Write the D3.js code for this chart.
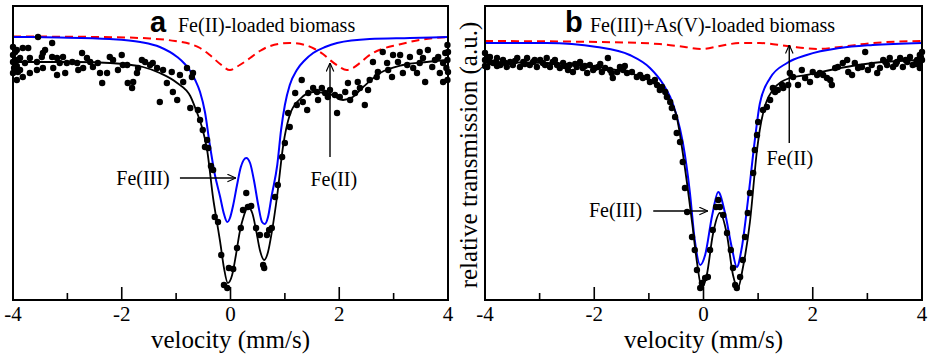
<!DOCTYPE html>
<html><head><meta charset="utf-8">
<script src="https://cdn.jsdelivr.net/npm/d3@7"></script>
<style>body{margin:0;background:#fff} text{font-family:"Liberation Serif","Times New Roman",Times,serif}</style></head>
<body>
<svg id="c" width="929" height="356"></svg>
<script>
// ---------- data ----------
const xMajorTicks = [-4, -2, 0, 2, 4];
const xMinorTicks = [-3, -1, 1, 3];
const xLabel = "velocity (mm/s)";
const yLabel = "relative transmission (a.u.)";
const titleA = ["a", "Fe(II)-loaded biomass"];
const titleB = ["b", "Fe(III)+As(V)-loaded biomass"];

// panel a: measured points [velocity, transmission a.u.]
const pointsA = [[-4.00,253],[-4.00,245],[-4.00,238],[-3.98,232],[-4.00,227],[-3.96,248],[-3.95,240],[-3.93,250],[-3.93,234],[-3.93,220],[-3.91,228],[-3.87,230],[-3.87,242],[-3.82,252],[-3.82,223],[-3.78,237],[-3.72,252],[-3.69,242],[-3.69,227],[-3.56,238],[-3.56,230],[-3.54,263],[-3.47,243],[-3.45,247],[-3.45,232],[-3.41,250],[-3.28,257],[-3.28,243],[-3.26,232],[-3.19,242],[-3.19,225],[-3.14,237],[-3.08,243],[-3.04,227],[-3.01,237],[-2.91,238],[-2.82,237],[-2.80,230],[-2.73,247],[-2.71,232],[-2.64,242],[-2.58,238],[-2.53,233],[-2.44,237],[-2.40,227],[-2.36,217],[-2.27,227],[-2.22,243],[-2.16,240],[-2.07,230],[-2.00,245],[-1.98,235],[-1.90,235],[-1.89,217],[-1.81,212],[-1.79,218],[-1.72,227],[-1.70,232],[-1.63,240],[-1.57,238],[-1.48,235],[-1.43,237],[-1.35,232],[-1.30,198],[-1.24,230],[-1.17,217],[-1.08,228],[-1.06,208],[-0.98,200],[-0.93,225],[-0.87,218],[-0.80,232],[-0.74,192],[-0.71,223],[-0.69,227],[-0.60,190],[-0.56,180],[-0.51,170],[-0.47,153],[-0.43,160],[-0.41,152],[-0.36,134],[-0.32,130],[-0.29,83],[-0.23,78],[-0.17,45],[-0.12,15],[-0.06,12],[-0.03,32],[0.05,31],[0.12,52],[0.19,72],[0.23,90],[0.29,107],[0.32,93],[0.38,94],[0.47,72],[0.54,65],[0.60,35],[0.62,32],[0.67,65],[0.71,70],[0.76,72],[0.82,103],[0.87,115],[0.95,143],[1.00,157],[1.06,187],[1.09,173],[1.19,207],[1.22,195],[1.31,220],[1.33,198],[1.41,190],[1.43,207],[1.52,212],[1.59,208],[1.61,200],[1.68,212],[1.74,207],[1.79,203],[1.83,210],[1.92,205],[1.96,187],[2.01,203],[2.11,208],[2.16,217],[2.20,200],[2.29,207],[2.34,218],[2.38,212],[2.47,195],[2.53,210],[2.56,220],[2.62,238],[2.69,223],[2.71,228],[2.80,248],[2.88,237],[2.90,230],[2.97,223],[2.99,245],[3.08,238],[3.12,245],[3.17,227],[3.25,235],[3.30,243],[3.36,232],[3.43,227],[3.48,237],[3.48,248],[3.54,242],[3.58,218],[3.63,250],[3.71,233],[3.76,240],[3.82,243],[3.85,227],[3.91,237],[3.91,218],[3.95,247],[3.99,240],[3.99,220],[3.99,255],[4.00,248],[3.97,232],[4.00,228]];
// panel a: total fit, Fe(III) doublet, Fe(II) doublet
const fitA = [[-4.00,238],[-3.45,238],[-2.82,238],[-2.22,237],[-1.61,233],[-1.30,227],[-0.98,217],[-0.74,204],[-0.62,188],[-0.52,172],[-0.43,150],[-0.32,102],[-0.25,78],[-0.19,58],[-0.12,32],[-0.05,17],[0.03,25],[0.10,45],[0.17,68],[0.25,85],[0.32,93],[0.40,87],[0.47,70],[0.54,50],[0.62,40],[0.69,48],[0.76,68],[0.86,105],[0.97,155],[1.09,185],[1.28,201],[1.52,208],[1.83,206],[2.07,200],[2.25,203],[2.44,213],[2.75,227],[3.17,235],[3.61,238],[4.00,240]];
const fe3A = [[-4.00,263],[-3.14,262.5],[-2.22,261],[-1.66,258],[-1.30,253],[-0.98,243],[-0.84,236],[-0.74,229],[-0.65,220],[-0.56,208],[-0.47,188],[-0.38,155],[-0.29,126],[-0.19,103],[-0.12,86],[-0.06,78],[-0.01,82],[0.05,95],[0.12,115],[0.19,133],[0.29,142],[0.36,137],[0.43,120],[0.51,95],[0.58,78],[0.63,76],[0.69,83],[0.76,105],[0.86,135],[0.93,170],[1.00,195],[1.09,215],[1.22,230],[1.37,240],[1.52,247],[1.74,253],[1.96,257],[2.56,261],[3.30,262],[4.00,263]];
const fe2A = [[-4.00,263.5],[-2.40,263],[-1.48,261.5],[-1.02,259],[-0.74,256],[-0.56,252],[-0.38,245],[-0.19,236],[-0.01,230],[0.17,235],[0.36,242],[0.54,249],[0.73,254],[1.09,257],[1.37,255],[1.55,251],[1.70,246],[1.83,240],[1.98,234],[2.14,230],[2.25,232],[2.38,237],[2.51,243],[2.62,247],[2.84,252],[3.06,255],[3.48,260],[4.00,263]];

// panel b
const pointsB = [[-4.00,247],[-4.00,240],[-4.00,234],[-3.96,243],[-3.96,233],[-3.91,238],[-3.91,243],[-3.85,237],[-3.78,242],[-3.78,234],[-3.72,235],[-3.67,240],[-3.60,233],[-3.54,238],[-3.49,235],[-3.41,242],[-3.36,233],[-3.30,238],[-3.23,242],[-3.18,235],[-3.12,238],[-3.05,233],[-2.99,240],[-2.94,237],[-2.87,242],[-2.81,233],[-2.76,238],[-2.68,235],[-2.63,232],[-2.57,237],[-2.48,230],[-2.45,235],[-2.39,228],[-2.32,233],[-2.26,238],[-2.21,232],[-2.13,227],[-2.08,235],[-2.02,230],[-1.93,233],[-1.86,228],[-1.80,232],[-1.75,242],[-1.68,227],[-1.66,222],[-1.58,228],[-1.53,233],[-1.47,230],[-1.40,227],[-1.31,228],[-1.22,223],[-1.16,225],[-1.11,222],[-1.03,223],[-0.98,218],[-0.89,220],[-0.85,215],[-0.80,210],[-0.76,213],[-0.70,208],[-0.67,203],[-0.61,198],[-0.58,192],[-0.52,183],[-0.49,167],[-0.43,158],[-0.38,138],[-0.34,112],[-0.30,88],[-0.21,63],[-0.16,50],[-0.12,30],[-0.06,12],[-0.03,17],[0.03,22],[0.08,23],[0.12,50],[0.17,70],[0.23,93],[0.27,100],[0.30,93],[0.36,85],[0.43,67],[0.50,50],[0.54,32],[0.58,15],[0.61,12],[0.67,23],[0.72,40],[0.76,63],[0.81,87],[0.85,107],[0.91,127],[0.94,150],[0.98,165],[1.00,178],[1.09,190],[1.16,193],[1.22,200],[1.27,212],[1.31,208],[1.36,210],[1.44,215],[1.46,212],[1.55,215],[1.58,227],[1.64,223],[1.73,215],[1.80,230],[1.86,222],[1.95,218],[2.00,228],[2.08,225],[2.13,227],[2.19,225],[2.26,222],[2.32,220],[2.35,215],[2.41,232],[2.46,233],[2.55,237],[2.63,240],[2.65,228],[2.72,225],[2.77,237],[2.83,232],[2.90,233],[2.96,248],[3.01,230],[3.08,235],[3.18,227],[3.23,232],[3.29,240],[3.36,235],[3.41,242],[3.47,233],[3.54,238],[3.60,242],[3.65,233],[3.73,238],[3.78,243],[3.83,235],[3.91,240],[3.93,237],[3.96,245],[3.96,232],[4.00,240],[4.00,248],[-3.80,238],[-3.63,237],[-3.45,239],[-3.27,236],[-3.09,240],[-2.90,235],[-2.72,240],[-2.54,234],[-2.35,236],[-2.17,234],[-1.99,232],[-1.89,236],[-1.71,230],[-1.44,234],[3.70,240],[3.88,236],[3.98,243],[3.52,236],[3.33,238]];
const fitB = [[-4.00,238],[-2.87,237],[-1.95,233],[-1.35,227],[-0.92,217],[-0.67,204],[-0.49,183],[-0.34,132],[-0.21,78],[-0.12,38],[-0.03,12],[0.06,25],[0.17,65],[0.30,87],[0.43,65],[0.54,25],[0.63,12],[0.72,32],[0.85,78],[0.98,150],[1.03,170],[1.13,195],[1.27,210],[1.58,222],[1.89,225],[2.50,232],[3.10,237],[4.00,240]];
const fe3B = [[-4.00,257],[-2.87,257],[-1.95,253],[-1.35,245],[-0.98,232],[-0.74,216],[-0.61,203],[-0.49,184],[-0.38,158],[-0.25,108],[-0.16,60],[-0.06,35],[0.03,45],[0.16,85],[0.27,108],[0.39,88],[0.52,52],[0.61,33],[0.70,52],[0.81,98],[0.94,160],[1.03,196],[1.22,222],[1.53,237],[1.89,245],[2.50,252],[3.10,255],[4.00,257]];
const fe2B = [[-4.00,259],[-1.89,258],[-0.80,256],[-0.34,253],[-0.03,251],[0.30,254],[0.67,257],[1.03,257],[1.53,254],[2.08,251],[2.50,253],[3.10,257],[4.00,259]];

// annotations (data coords)
const annotA = [
  {type:"text", text:"Fe(III)", x:-1.61, y:115},
  {type:"arrow", x1:-0.93, y1:122, x2:0.10, y2:122},
  {type:"text", text:"Fe(II)", x:1.90, y:114},
  {type:"arrow", x1:1.83, y1:143, x2:1.83, y2:237}
];
const annotB = [
  {type:"text", text:"Fe(III)", x:-1.61, y:83},
  {type:"arrow", x1:-0.92, y1:89, x2:0.08, y2:89},
  {type:"text", text:"Fe(II)", x:1.58, y:135},
  {type:"arrow", x1:1.57, y1:157, x2:1.57, y2:255}
];

// ---------- drawing ----------
const svg = d3.select("#c");
const defs = svg.append("defs");
defs.append("marker").attr("id","arr").attr("viewBox","0 0 10 10")
  .attr("refX",9.5).attr("refY",5).attr("markerWidth",9).attr("markerHeight",9)
  .attr("markerUnits","userSpaceOnUse").attr("orient","auto")
  .append("path").attr("d","M0,0.8 L9.5,5 L0,9.2").attr("fill","none")
  .attr("stroke","#000").attr("stroke-width",1.3);

function panel(cfg) {
  const top = 6, bottom = 300;
  const x = d3.scaleLinear().domain([-4,4]).range([cfg.left, cfg.right]);
  const y = d3.scaleLinear().domain([0,294]).range([bottom, top]);
  const g = svg.append("g");

  const line = d3.line().x(d=>x(d[0])).y(d=>y(d[1])).curve(d3.curveMonotoneX);

  g.append("path").datum(cfg.fe2).attr("d", line).attr("fill","none")
    .attr("stroke","#ff0000").attr("stroke-width",2).attr("stroke-dasharray","8,5");
  g.append("path").datum(cfg.fe3).attr("d", line).attr("fill","none")
    .attr("stroke","#0000ff").attr("stroke-width",2);
  g.append("path").datum(cfg.fit).attr("d", line).attr("fill","none")
    .attr("stroke","#000").attr("stroke-width",1.8);
  g.append("g").selectAll("circle").data(cfg.points).join("circle")
    .attr("cx", d=>x(d[0])).attr("cy", d=>y(d[1])).attr("r",3.2).attr("fill","#000");

  // frame
  g.append("rect").attr("x",cfg.left).attr("y",top).attr("width",cfg.right-cfg.left)
    .attr("height",bottom-top).attr("fill","none").attr("stroke","#000").attr("stroke-width",2);

  // ticks (inward)
  g.selectAll(".maj").data(xMajorTicks).join("line")
    .attr("x1",d=>x(d)).attr("x2",d=>x(d)).attr("y1",bottom).attr("y2",bottom-13)
    .attr("stroke","#000").attr("stroke-width",1.6);
  g.selectAll(".min").data(xMinorTicks).join("line")
    .attr("x1",d=>x(d)).attr("x2",d=>x(d)).attr("y1",bottom).attr("y2",bottom-7)
    .attr("stroke","#000").attr("stroke-width",1.6);
  g.selectAll(".tl").data(xMajorTicks).join("text")
    .attr("x",d=>x(d)).attr("y",321).attr("text-anchor","middle")
    .attr("font-size",21).text(d=>d);

  g.append("text").attr("x",(cfg.left+cfg.right)/2).attr("y",348).attr("text-anchor","middle")
    .attr("font-size",25).text(xLabel);

  // title
  g.append("text").attr("x",cfg.titleX).attr("y",32)
    .style("font-family","'Liberation Sans',Arial,sans-serif")
    .attr("font-weight","bold").attr("font-size",29).text(cfg.title[0]);
  g.append("text").attr("x",cfg.titleX2).attr("y",32)
    .attr("font-size",20).text(cfg.title[1]);

  // annotations
  cfg.annot.forEach(a=>{
    if (a.type==="text") {
      g.append("text").attr("x",x(a.x)).attr("y",y(a.y)).attr("text-anchor","middle")
        .attr("font-size",20).text(a.text);
    } else {
      g.append("line").attr("x1",x(a.x1)).attr("y1",y(a.y1)).attr("x2",x(a.x2)).attr("y2",y(a.y2))
        .attr("stroke","#000").attr("stroke-width",1.4).attr("marker-end","url(#arr)");
    }
  });
}

panel({left:13, right:448, points:pointsA, fit:fitA, fe3:fe3A, fe2:fe2A,
       title:titleA, titleX:150, titleX2:178, annot:annotA});
panel({left:485, right:922, points:pointsB, fit:fitB, fe3:fe3B, fe2:fe2B,
       title:titleB, titleX:565, titleX2:590, annot:annotB});

svg.append("text").attr("transform","translate(477,155) rotate(-90)")
  .attr("text-anchor","middle").attr("font-size",25).text(yLabel);
</script>
</body></html>
